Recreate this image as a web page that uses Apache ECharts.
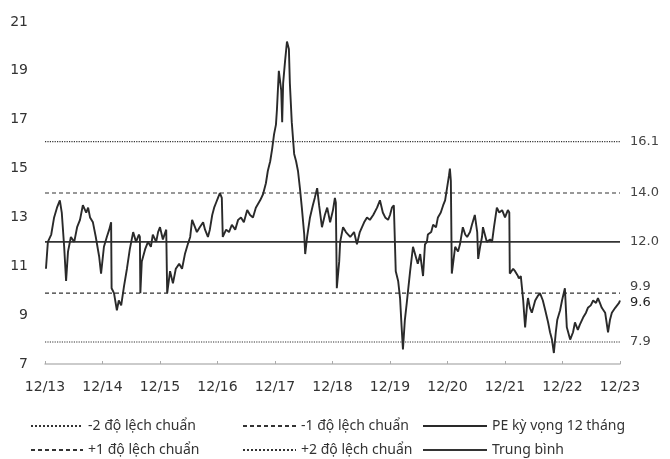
<!DOCTYPE html>
<html>
<head>
<meta charset="utf-8">
<script src="https://cdn.jsdelivr.net/npm/echarts@6.0.0/dist/echarts.min.js"></script>
<style>
	html,body{margin:0;padding:0;background:#fff;}
	#main{width:670px;height:459px;}
</style>
</head>
<body>
<div id="main"></div>
<script>
// months counted from 12/2013
var months = [
	0.2,0.6,1.3,1.9,2.5,3.1,3.5,4.0,4.4,4.8,5.4,6.1,6.7,7.3,7.9,8.6,9.0,9.4,10.0,10.6,11.3,11.7,
	12.3,12.9,13.4,13.8,13.9,14.4,15.0,15.4,15.9,16.5,17.1,17.7,18.4,19.0,19.6,19.8,19.9,20.2,20.9,
	21.5,22.1,22.5,23.2,23.6,24.0,24.6,25.3,25.4,25.5,26.1,26.7,27.3,28.0,28.6,29.2,29.8,30.3,30.7,
	31.3,31.7,32.3,33.0,33.4,34.0,34.4,34.9,35.3,35.7,36.1,36.5,36.9,37.1,37.8,38.4,39.0,39.7,40.3,
	40.9,41.5,42.2,42.8,43.4,44.0,44.9,45.5,46.1,46.5,47.0,47.4,47.8,48.2,48.4,48.8,49.3,49.5,49.7,
	50.1,50.5,50.9,51.1,51.5,52.0,52.4,52.8,53.2,53.6,54.1,54.3,54.7,55.3,55.9,56.3,56.8,57.2,57.8,
	58.4,58.9,59.5,60.1,60.5,60.7,60.9,61.4,61.6,62.2,62.8,63.7,64.5,65.1,65.7,66.6,67.2,67.8,68.5,
	69.3,69.9,70.5,71.0,71.6,72.0,72.4,72.8,73.2,73.7,74.1,74.4,74.7,75.1,75.5,76.2,76.8,77.2,77.8,
	78.3,78.9,79.3,79.7,79.9,80.6,81.0,81.6,82.0,82.6,83.1,83.5,83.9,84.3,84.5,84.7,84.9,85.6,86.2,
	86.6,87.2,87.7,88.1,88.7,89.1,89.7,90.2,90.4,90.8,91.2,91.4,91.8,92.2,92.9,93.3,93.7,94.3,94.8,
	95.4,96.0,96.6,96.9,97.0,97.7,98.1,98.7,98.9,99.3,99.8,100.2,100.6,100.8,101.2,101.6,102.3,102.9,
	103.3,103.9,104.4,105.0,105.4,105.8,106.2,106.6,106.9,107.5,107.9,108.5,108.9,109.6,110.2,110.6,
	111.2,111.6,112.3,112.9,113.3,113.9,114.4,115.0,115.4,115.8,116.2,116.9,117.5,117.9,118.3,119.0,
	119.4,119.8,120.0
];
var pe = [
	10.9,12.0,12.3,13.0,13.4,13.7,13.2,11.8,10.4,11.6,12.2,12.0,12.6,12.9,13.5,13.2,13.4,13.0,12.8,12.2,11.4,10.7,
	11.8,12.2,12.5,12.8,10.1,9.9,9.2,9.6,9.4,10.2,10.9,11.7,12.4,12.0,12.3,12.2,9.9,11.2,11.7,
	12.0,11.8,12.3,12.0,12.4,12.6,12.1,12.5,12.5,9.9,10.8,10.3,10.9,11.1,10.9,11.5,11.9,12.2,12.9,
	12.6,12.4,12.6,12.8,12.5,12.2,12.5,13.1,13.4,13.6,13.8,14.0,13.8,12.2,12.5,12.4,12.7,12.5,12.9,
	13.0,12.8,13.3,13.1,13.0,13.4,13.7,13.95,14.4,14.9,15.3,15.8,16.4,16.8,17.4,19.0,18.2,16.9,18.5,
	19.4,20.2,19.9,18.5,16.9,15.6,15.3,14.9,14.2,13.4,12.3,11.5,12.2,13.0,13.5,13.8,14.2,13.5,12.6,
	13.1,13.4,12.8,13.3,13.8,13.6,10.1,11.2,12.0,12.6,12.4,12.2,12.4,11.9,12.4,12.8,13.0,12.9,13.1,
	13.4,13.7,13.2,13.0,12.9,13.1,13.4,13.5,10.8,10.4,9.7,8.6,7.6,8.8,9.5,10.8,11.8,11.8,11.1,
	11.5,10.6,11.9,12.0,12.3,12.4,12.7,12.6,13.0,13.2,13.5,13.7,14.2,14.7,15.0,14.5,10.7,11.8,11.6,
	11.9,12.6,12.3,12.2,12.4,12.7,13.1,12.4,11.3,11.8,12.2,12.6,12.3,12.0,12.1,12.0,12.6,13.4,13.2,
	13.3,13.0,13.3,13.2,10.7,10.9,10.8,10.6,10.5,10.6,9.6,8.5,9.4,9.7,9.3,9.1,9.6,9.8,
	9.9,9.6,9.2,8.7,8.3,8.0,7.45,8.3,8.8,9.2,9.6,10.1,8.5,8.0,8.3,8.7,
	8.4,8.6,8.9,9.1,9.3,9.4,9.6,9.5,9.7,9.5,9.3,9.1,8.3,8.8,9.1,9.3,
	9.4,9.5,9.6
];
var tickLabels = ['12/13','12/14','12/15','12/16','12/17','12/18','12/19','12/20','12/21','12/22','12/23'];
var peName = 'PE kỳ vọng 12 tháng';
var levelNames = ['-2 độ lệch chuẩn','-1 độ lệch chuẩn','+1 độ lệch chuẩn','+2 độ lệch chuẩn','Trung bình'];
var levelValues = [7.9, 9.9, 14.0, 16.1, 12.0];
var legendRows = [
	['-2 độ lệch chuẩn','-1 độ lệch chuẩn',peName],
	['+1 độ lệch chuẩn','+2 độ lệch chuẩn','Trung bình']
];

var FONT = 'DejaVu Sans';
var LEGEND_FONT = 'Noto Sans';
var levelStyles = {
	'-2 độ lệch chuẩn':{type:'dotted',width:1.2},
	'-1 độ lệch chuẩn':{type:[4,3],width:1.2},
	'+1 độ lệch chuẩn':{type:[4,3],width:1.2},
	'+2 độ lệch chuẩn':{type:'dotted',width:1.2},
	'Trung bình':{type:'solid',width:1.6}
};
var labelOffsets = {'-1 độ lệch chuẩn':[0,-7]};

function levelSeries(i){
	var n = levelNames[i], v = levelValues[i];
	var st = levelStyles[n];
	return {
		name:n,
		type:'line',
		symbol:'none',
		silent:true,
		data:[[0,v],[120,v]],
		lineStyle:{color:'#333',width:st.width,type:st.type},
		itemStyle:{color:'#333'},
		endLabel:{
			show:true,
			formatter:function(){return v.toFixed(1);},
			color:'#444',
			fontFamily:FONT,
			fontSize:13,
			distance:10,
			offset:labelOffsets[n]||[0,0]
		}
	};
}

function buildLegends(){
	var cols = [30,242,422], rows = [419,443], widths = [52,53,64];
	var out = [];
	legendRows.forEach(function(r,ri){
		r.forEach(function(n,ci){
			out.push({
				data:[n],
				left:cols[ci],
				top:rows[ri],
				padding:0,
				itemWidth:widths[ci],
				itemHeight:12,
				selectedMode:false,
				itemStyle:{opacity:0},
				textStyle:{fontFamily:LEGEND_FONT,fontSize:14,color:'#333'}
			});
		});
	});
	return out;
}

var series = [];
for(var i=0;i<levelNames.length;i++) series.push(levelSeries(i));
series.push({
	name:peName,
	type:'line',
	symbol:'none',
	data:months.map(function(m,k){return [m,pe[k]];}),
	lineStyle:{color:'#2a2a2a',width:1.9},
	itemStyle:{color:'#2a2a2a'},
	z:5,
	endLabel:{
		show:true,
		formatter:function(p){return p.value[1].toFixed(1);},
		color:'#222',
		fontFamily:FONT,
		fontSize:13,
		distance:10,
		offset:[0,2]
	}
});

var chart = echarts.init(document.getElementById('main'));
chart.setOption({
	animation:false,
	backgroundColor:'#fff',
	grid:{left:45,right:50,top:22,bottom:95},
	legend:buildLegends(),
	xAxis:{
		type:'value',
		min:0,
		max:120,
		interval:12,
		axisLine:{show:true,lineStyle:{color:'#bbb',width:1.5}},
		axisTick:{show:true,inside:true,length:3,lineStyle:{color:'#aaa'}},
		splitLine:{show:false},
		axisLabel:{
			margin:16,
			fontFamily:FONT,
			fontSize:14,
			color:'#333',
			formatter:function(v){return tickLabels[Math.round(v/12)]||'';}
		}
	},
	yAxis:{
		type:'value',
		min:7,
		max:21,
		interval:2,
		axisLine:{show:false},
		axisTick:{show:false},
		splitLine:{show:false},
		axisLabel:{margin:17,fontFamily:FONT,fontSize:14,color:'#333'}
	},
	series:series
});
</script>
</body>
</html>
